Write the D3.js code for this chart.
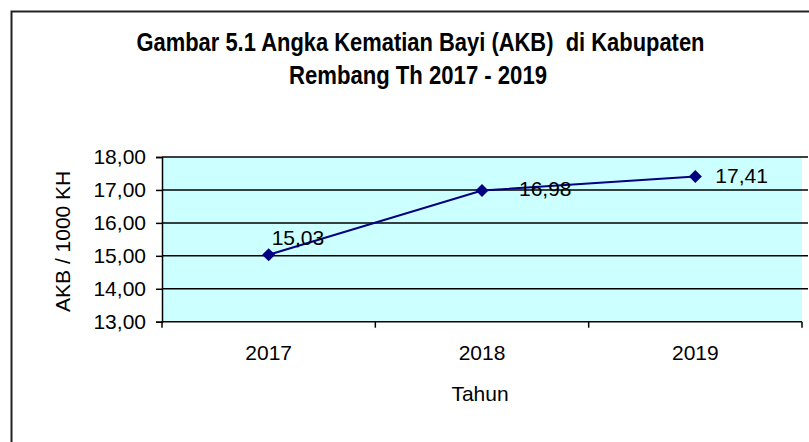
<!DOCTYPE html>
<html>
<head>
<meta charset="utf-8">
<script src="https://cdn.jsdelivr.net/npm/d3@7"></script>
<style>
  html, body { margin: 0; padding: 0; background: #fff; }
  svg { display: block; }
  text { font-family: "Liberation Sans", Arial, sans-serif; fill: #000; }
</style>
</head>
<body>
<div class="chart"></div>
<script>
// data
var years = ['2017', '2018', '2019'];
var akb = [15.03, 16.98, 17.41];
var yTicks = [13, 14, 15, 16, 17, 18];
var titleLines = ['Gambar 5.1 Angka Kematian Bayi (AKB)  di Kabupaten', 'Rembang Th 2017 - 2019'];

// where excel left each data label, relative to its point
var labelOffsets = [[3, -10], [37, 5], [20, 7]];

draw();

function draw() {
    var width = 809;
    var height = 442;

    var plot = { left: 162, right: 802, top: 157, bottom: 321.7 };

    var svg = d3.select('.chart')
        .append('svg')
        .attr('width', width)
        .attr('height', height);

    // outer frame (only top and left edges show)
    svg.append('path')
        .attr('d', 'M11.5,' + height + 'V11.5H' + width)
        .attr('fill', 'none')
        .attr('stroke', '#222')
        .attr('stroke-width', 2);

    // title, condensed bold
    var titleWidths = [568, 258];
    svg.selectAll('.title')
        .data(titleLines)
        .enter()
        .append('text')
        .attr('class', 'title')
        .attr('x', function (d, i) { return i === 0 ? 136.5 : 289; })
        .attr('y', function (d, i) { return 51 + i * 33; })
        .attr('textLength', function (d, i) { return titleWidths[i]; })
        .attr('lengthAdjust', 'spacingAndGlyphs')
        .style('white-space', 'pre')
        .style('font-family', '"Liberation Sans Narrow", "Liberation Sans", Arial, sans-serif')
        .style('font-weight', 'bold')
        .style('font-size', '26px')
        .text(function (d) { return d; });

    var x = d3.scaleBand()
        .domain(years)
        .range([plot.left, plot.right])
        .padding(0);

    var y = d3.scaleLinear()
        .domain([13, 18])
        .range([plot.bottom, plot.top]);

    var fmt = function (v) { return d3.format('.2f')(v).replace('.', ','); };

    // plot background
    svg.append('rect')
        .attr('x', plot.left)
        .attr('y', plot.top)
        .attr('width', plot.right - plot.left)
        .attr('height', plot.bottom - plot.top)
        .attr('fill', '#ccffff');

    // gridlines
    svg.selectAll('.grid')
        .data(yTicks.slice(1))
        .enter()
        .append('line')
        .attr('x1', plot.left)
        .attr('x2', plot.right + 6)
        .attr('y1', function (d) { return y(d); })
        .attr('y2', function (d) { return y(d); })
        .attr('stroke', '#000')
        .attr('stroke-width', 1.5);

    // y axis
    var yAxis = svg.append('g')
        .attr('transform', 'translate(' + plot.left + ',0)')
        .call(d3.axisLeft(y).tickValues(yTicks).tickFormat(fmt).tickSize(6).tickPadding(10));
    yAxis.select('.domain').attr('stroke', '#000').attr('stroke-width', 1.5);
    yAxis.selectAll('.tick line').attr('stroke', '#000').attr('stroke-width', 1.5);
    yAxis.selectAll('text')
        .style('font-family', '"Liberation Sans", Arial, sans-serif')
        .style('font-size', '21px')
        .attr('fill', '#000');

    // x axis: ticks sit between the categories
    var xAxis = svg.append('g');
    xAxis.append('line')
        .attr('x1', plot.left)
        .attr('x2', plot.right)
        .attr('y1', plot.bottom)
        .attr('y2', plot.bottom)
        .attr('stroke', '#000')
        .attr('stroke-width', 1.5);
    var bounds = years.map(function (d) { return x(d); }).concat([x(years[years.length - 1]) + x.bandwidth()]);
    xAxis.selectAll('.xtick')
        .data(bounds)
        .enter()
        .append('line')
        .attr('x1', function (d) { return d; })
        .attr('x2', function (d) { return d; })
        .attr('y1', plot.bottom)
        .attr('y2', plot.bottom + 6)
        .attr('stroke', '#000')
        .attr('stroke-width', 1.5);
    xAxis.selectAll('.xlabel')
        .data(years)
        .enter()
        .append('text')
        .attr('x', function (d) { return x(d) + x.bandwidth() / 2; })
        .attr('y', 359.5)
        .attr('text-anchor', 'middle')
        .style('font-size', '21px')
        .text(function (d) { return d; });

    // axis titles
    svg.append('text')
        .attr('x', 480)
        .attr('y', 401)
        .attr('text-anchor', 'middle')
        .style('font-size', '21px')
        .text('Tahun');

    svg.append('text')
        .attr('transform', 'translate(70,' + ((plot.top + plot.bottom) / 2 + 2) + ') rotate(-90)')
        .attr('text-anchor', 'middle')
        .style('font-size', '21px')
        .text('AKB / 1000 KH');

    // series
    var points = years.map(function (d, i) {
        return { year: d, value: akb[i], off: labelOffsets[i] };
    });

    var line = d3.line()
        .x(function (d) { return x(d.year) + x.bandwidth() / 2; })
        .y(function (d) { return y(d.value); });

    svg.append('path')
        .datum(points)
        .attr('d', line)
        .attr('fill', 'none')
        .attr('stroke', '#000080')
        .attr('stroke-width', 2);

    svg.selectAll('.marker')
        .data(points)
        .enter()
        .append('path')
        .attr('d', d3.symbol().type(d3.symbolSquare).size(85))
        .attr('transform', function (d) {
            return 'translate(' + (x(d.year) + x.bandwidth() / 2) + ',' + y(d.value) + ') rotate(45)';
        })
        .attr('fill', '#000080');

    svg.selectAll('.dlabel')
        .data(points)
        .enter()
        .append('text')
        .attr('x', function (d) { return x(d.year) + x.bandwidth() / 2 + d.off[0]; })
        .attr('y', function (d) { return y(d.value) + d.off[1]; })
        .style('font-size', '21px')
        .text(function (d) { return fmt(d.value); });
}
</script>
</body>
</html>
